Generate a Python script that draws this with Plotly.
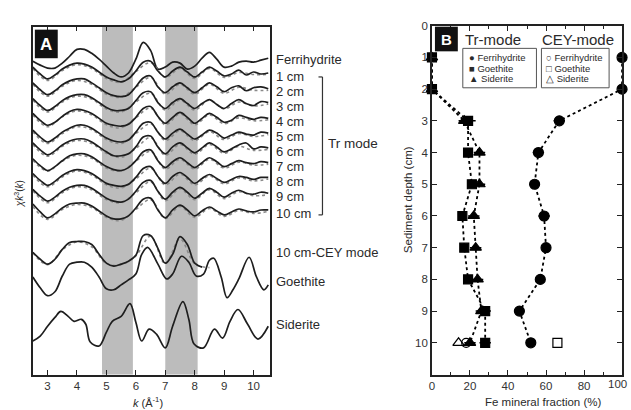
import numpy as np
import plotly.graph_objects as go

W, H = 631, 410

# ---------------- Panel A data (k^3-weighted EXAFS, arbitrary units, up = positive) ----------------
k_grid = [2.5 + 0.25 * i for i in range(33)]
k_fit = [2.5 + 0.5 * i for i in range(17)]

ferrihydrite = [-2, -6, -9, -9, -4, 3, 10, 10, 6, 0, -7, -14, -18, -14, 0, 17, 9, -10, -8, -3,
                -4, -10, -7, 1, 7, 0, -8, -7, -3, -2, -3, -1, 1]

depth_labels = ["1 cm", "2 cm", "3 cm", "4 cm", "5 cm", "6 cm", "7 cm", "8 cm", "9 cm", "10 cm"]
s1 = [6, -1, -6, -2, 4, 8, 10, 9, 6, 1, -4, -7, -9, -6, 2, 11, 12, 2, -4, 2, 6, 1, -4, 1, 6, 2, -3, -1, 3, -2, 1, -1, 0]
s2 = [5, -2, -7, -3, 3, 7, 9, 9, 5, 0, -5, -8, -9, -7, 1, 10, 12, 1, -5, 1, 5, 0, -5, 0, 5, 1, -4, 0, 2, -3, 0, 1, -1]
s3 = [4, -3, -8, -4, 2, 6, 8, 8, 5, 0, -5, -8, -8, -6, 2, 10, 11, 0, -6, 0, 4, -1, -6, -1, 3, -2, -6, -1, 3, -1, -3, 1, 0]
s4 = [4, -3, -8, -5, 1, 6, 8, 7, 4, -1, -6, -8, -9, -7, 0, 9, 11, 1, -6, 0, 5, 0, -6, -1, 4, 0, -5, -3, 2, 0, -2, 0, -1]
s5 = [3, -4, -9, -5, 1, 5, 8, 8, 5, 0, -5, -8, -9, -7, 1, 10, 11, 1, -6, 0, 4, -1, -6, -2, 3, 0, -5, -2, 1, -1, -2, 1, 0]
s6 = [4, -3, -8, -4, 2, 6, 8, 8, 5, 0, -5, -9, -9, -7, 0, 10, 11, 0, -7, 0, 4, -1, -6, -1, 4, 0, -5, -2, 2, 4, -2, 0, -1]
s7 = [3, -4, -9, -5, 1, 6, 8, 8, 5, 0, -5, -8, -9, -6, 1, 10, 12, 1, -6, 0, 4, -1, -6, -1, 4, 0, -5, -2, 1, -1, -2, 0, -1]
s8 = [4, -3, -8, -4, 2, 6, 8, 7, 4, -1, -6, -8, -9, -7, 0, 9, 11, 1, -6, 1, 5, 0, -6, -1, 3, -1, -5, -2, 1, 0, -2, 0, 0]
s9 = [3, -4, -9, -5, 1, 5, 7, 7, 4, -1, -6, -9, -10, -7, 1, 10, 12, 1, -7, 0, 5, 0, -6, -1, 4, 0, -5, -1, 2, -1, -2, 0, -1]
s10 = [6, -2, -8, -4, 2, 6, 7, 7, 4, -1, -6, -9, -9, -6, 2, 11, 12, 0, -8, 0, 5, 0, -6, -1, 3, -1, -5, -2, 1, -1, -2, 0, 0]
samples = [s1, s2, s3, s4, s5, s6, s7, s8, s9, s10]

f1 = [6, -6, 4, 10, 6, -4, -8, 3, 12, -3, 6, -4, 6, -3, 2, 0, 0]
f2 = [5, -7, 3, 9, 5, -5, -8, 2, 12, -5, 5, -5, 5, -4, 2, -1, -1]
f3 = [4, -8, 2, 8, 5, -5, -8, 2, 11, -6, 4, -6, 4, -5, 2, -2, 0]
f4 = [4, -8, 2, 8, 4, -6, -9, 1, 11, -6, 5, -6, 4, -5, 1, -2, -1]
f5 = [3, -9, 1, 8, 5, -5, -9, 1, 11, -6, 4, -6, 3, -5, 1, -2, 0]
f6 = [4, -8, 2, 8, 5, -5, -9, 0, 11, -7, 4, -6, 4, -5, 2, -2, -1]
f7 = [3, -8, 2, 8, 5, -5, -8, 2, 12, -6, 4, -6, 4, -5, 1, -2, -1]
f8 = [4, -8, 2, 8, 4, -6, -9, 0, 11, -6, 5, -6, 3, -5, 1, -2, 0]
f9 = [3, -9, 1, 7, 4, -6, -9, 1, 12, -7, 5, -6, 4, -5, 2, -2, -1]
f10 = [5, -8, 2, 7, 4, -6, -9, 2, 12, -7, 5, -6, 3, -5, 1, -2, 0]
fits = [f1, f2, f3, f4, f5, f6, f7, f8, f9, f10]

k_cey = [2.5 + 0.25 * i for i in range(24)]
cey = [0, -7, -12, -7, 3, 10, 11, 11, 8, -2, -11, -14, -12, -9, -3, 17, 17, 4, -11, -2, 16, 8, -11, -15]
k_cey_fit = [2.5 + 0.5 * i for i in range(13)]
cey_fit = [1, -11, 4, 12, 7, -10, -11, -2, 18, -10, 15, -10, -14]

k_goe = [2.5, 2.75, 3.0, 3.25, 3.5, 3.75, 4.0, 4.25, 4.5, 4.75, 5.0, 5.25, 5.5, 5.75, 6.0, 6.2, 6.4,
         6.75, 7.05, 7.25, 7.55, 7.8, 8.05, 8.3, 8.5, 8.65, 8.9, 9.1, 9.3, 9.5, 9.85, 10.1, 10.35, 10.5]
goethite = [5, -6, -14, -10, 6, 18, 20, 20, 15, 5, -7, -8, -3, 2, 8, 28, 35,
            18, 3, 8, 26, 20, 6, 8, 22, 24, 5, -16, -8, 3, 25, 5, -8, -3]

k_sid = [2.5, 2.75, 3.0, 3.25, 3.45, 3.7, 3.9, 4.15, 4.3, 4.45, 4.75, 5.0, 5.2, 5.5, 5.8, 6.0, 6.2,
         6.45, 6.7, 7.0, 7.25, 7.6, 7.8, 7.98, 8.3, 8.67, 8.95, 9.2, 9.47, 9.8, 10.15, 10.5]
siderite = [-17, -12, -2, 7, 13, 8, 3, 5, 0, -18, -22, -8, 3, 8, 21, 2, -17,
            -5, -10, -24, -2, 23, 5, -20, -24, -5, -14, 3, 15, 0, -15, -2]

band_ranges = [(4.85, 5.9), (7.0, 8.1)]

# ---------------- Panel B data ----------------
depth = [1, 2, 3, 4, 5, 6, 7, 8, 9, 10]
tr_ferrihydrite = [100, 100, 67, 56, 54, 59, 60, 57, 46, 52]
tr_ferrihydrite_err = [0, 0, 3, 3, 0, 3, 2, 0, 0, 0]
tr_goethite = [0, 0, 19, 19, 21, 16, 17, 19, 28, 28]
tr_goethite_err = [0, 0, 4, 0, 0, 0, 0, 0, 3, 3]
tr_siderite = [0, 0, 17, 25, 25, 22, 23, 24, 26, 20]
tr_siderite_err = [0, 0, 3, 3, 3, 3, 3, 3, 3, 3]
cey_depth = [10]
cey_ferrihydrite = [18]
cey_goethite = [66]
cey_siderite = [14]
fraction_ticks = [0, 20, 40, 60, 80, 100]

# ---------------- layout helpers ----------------
def fx(p):
    return p / W

def fy(p):
    return 1 - p / H

# vertical stacking levels of spectra (layout, in panel units)
ref_level = 54
sample_levels = [68, 83, 98, 113, 129, 143, 158, 174, 189, 207]
cey_level = 250
goe_level = 280
sid_level = 323

DARK = "#1e1e1e"
FIT = "#8a8a8a"

fig = go.Figure()

def add_curve(k, vals, level, color=DARK, dash="solid", width=1.7):
    fig.add_trace(go.Scatter(
        x=k, y=[v - level for v in vals], mode="lines",
        line=dict(color=color, width=width, dash=dash, shape="spline", smoothing=1.0),
        xaxis="x", yaxis="y", showlegend=False, hoverinfo="skip"))

add_curve(k_grid, ferrihydrite, ref_level)
for vals, fvals, lvl in zip(samples, fits, sample_levels):
    add_curve(k_fit, fvals, lvl + 1.5, color=FIT, dash="dot", width=1.6)
    add_curve(k_grid, vals, lvl)
add_curve(k_cey_fit, cey_fit, cey_level + 1.5, color=FIT, dash="dot", width=1.6)
add_curve(k_cey, cey, cey_level)
add_curve(k_goe, goethite, goe_level)
add_curve(k_sid, siderite, sid_level)

# ---------------- Panel B traces ----------------
def add_series(xv, err, symbol, open_=False, line=True, yv=depth, size=9):
    fig.add_trace(go.Scatter(
        x=xv, y=yv, mode="lines+markers" if line else "markers",
        line=dict(color="black", width=1.8, dash="dot"),
        marker=dict(symbol=symbol + ("-open" if open_ else ""), size=size,
                    color="black", line=dict(color="black", width=1.2)),
        error_x=dict(type="data", array=err, visible=True, color="black", thickness=1.5, width=0)
        if err is not None else None,
        xaxis="x2", yaxis="y2", showlegend=False, cliponaxis=False, hoverinfo="skip"))

add_series(tr_goethite, tr_goethite_err, "square", size=9)
add_series(tr_siderite, tr_siderite_err, "triangle-up", size=10)
add_series(tr_ferrihydrite, tr_ferrihydrite_err, "circle", size=10)
add_series(cey_ferrihydrite, None, "circle", open_=True, line=False, yv=cey_depth, size=9)
add_series(cey_goethite, None, "square", open_=True, line=False, yv=cey_depth, size=9)
add_series(cey_siderite, None, "triangle-up", open_=True, line=False, yv=cey_depth, size=10)

shapes = []
for x0, x1 in band_ranges:
    shapes.append(dict(type="rect", xref="x", yref="y domain", x0=x0, x1=x1, y0=0, y1=1,
                       fillcolor="#bcbcbc", line=dict(width=0), layer="below"))
# panel label boxes
shapes.append(dict(type="rect", xref="paper", yref="paper", x0=fx(32), x1=fx(55), y0=fy(53), y1=fy(24),
                   fillcolor="#111111", line=dict(width=0)))
shapes.append(dict(type="rect", xref="paper", yref="paper", x0=fx(434), x1=fx(457), y0=fy(46), y1=fy(21),
                   fillcolor="#111111", line=dict(width=0)))
# Tr mode bracket
shapes.append(dict(type="line", xref="paper", yref="paper", x0=fx(321), x1=fx(321), y0=fy(72), y1=fy(212),
                   line=dict(color="#333", width=1.2)))
for yy in (72, 212):
    shapes.append(dict(type="line", xref="paper", yref="paper", x0=fx(317), x1=fx(321), y0=fy(yy), y1=fy(yy),
                       line=dict(color="#333", width=1.2)))
# legend boxes
shapes.append(dict(type="rect", xref="paper", yref="paper", x0=fx(462), x1=fx(536), y0=fy(83), y1=fy(43),
                   line=dict(color="#555", width=1)))
shapes.append(dict(type="rect", xref="paper", yref="paper", x0=fx(541), x1=fx(609), y0=fy(83), y1=fy(43),
                   line=dict(color="#555", width=1)))

FONT = "Liberation Sans, Arial, sans-serif"
TXT = "#2a2a2a"
ann = []

def text(s, px, py, size, xanchor="left", color=TXT, angle=0, yanchor="middle"):
    ann.append(dict(text=s, x=fx(px), y=fy(py), xref="paper", yref="paper", showarrow=False,
                    xanchor=xanchor, yanchor=yanchor, textangle=angle,
                    font=dict(family=FONT, size=size, color=color)))

text("<b>A</b>", 43.5, 39, 17, xanchor="center", color="white")
text("<b>B</b>", 445.5, 34, 15, xanchor="center", color="white")

label_y = {"Ferrihydrite": 54, "1 cm": 72, "2 cm": 87, "3 cm": 102, "4 cm": 117, "5 cm": 132.5,
           "6 cm": 147.5, "7 cm": 162.5, "8 cm": 178, "9 cm": 193, "10 cm": 211,
           "10 cm-CEY mode": 250, "Goethite": 280, "Siderite": 323}
for s, py in label_y.items():
    text(s, 272, py, 13)
text("Tr mode", 325, 140, 13.5)

text("Tr-mode", 462, 34, 15)
text("CEY-mode", 540, 34, 15)
for i, (sym, name) in enumerate([("●", "Ferrihydrite"), ("■", "Goethite"), ("▲", "Siderite")]):
    text(sym + " " + name, 466, 52.5 + i * 10.5, 9.5)
for i, (sym, name) in enumerate([("○", "Ferrihydrite"), ("□", "Goethite"), ("△", "Siderite")]):
    text(sym + " " + name, 544, 52.5 + i * 10.5, 9.5)

text("<i>k</i> (Å<sup>-1</sup>)", 146, 402, 11, xanchor="center")
text("<i>χk</i><sup>3</sup>(<i>k</i>)", 16, 190, 10, xanchor="center", angle=-90)
text("Fe mineral fraction (%)", 543, 402, 11.5, xanchor="center")
text("Sediment depth (cm)", 407, 197, 11.5, xanchor="center", angle=-90)
# last x tick label of panel B sits on the figure edge; draw it as text so it is not dropped
text(str(fraction_ticks[-1]), 617, 384, 11.5, xanchor="center", color="#333")

axis_common = dict(showline=True, linecolor="#222", linewidth=1.6, mirror="ticks", ticks="inside",
                   tickcolor="#222", tickwidth=1.2, ticklen=5, showgrid=False, zeroline=False,
                   tickfont=dict(family=FONT, size=11.5, color="#333"))

fig.update_layout(
    width=W, height=H, margin=dict(l=0, r=0, t=0, b=0),
    paper_bgcolor="white", plot_bgcolor="rgba(0,0,0,0)",
    xaxis=dict(domain=[fx(30), fx(268)], range=[2.5, 10.55], tickvals=list(range(3, 11)),
               anchor="y", **axis_common),
    yaxis=dict(domain=[fy(374), fy(21)], range=[-374, -21], showticklabels=False,
               showline=True, linecolor="#222", linewidth=1.6, mirror=True, ticks="",
               showgrid=False, zeroline=False, anchor="x"),
    xaxis2=dict(domain=[fx(431), fx(622)], range=[0, 100], tickvals=fraction_ticks,
                ticktext=[str(t) for t in fraction_ticks[:-1]] + [""],
                minor=dict(dtick=10, ticks="inside", ticklen=3, tickcolor="#222"),
                anchor="y2", **axis_common),
    yaxis2=dict(domain=[fy(374), fy(20)], range=[11, 0], tickvals=list(range(0, 11)),
                anchor="x2", **axis_common),
    shapes=shapes, annotations=ann,
)

fig.write_html("out.html", config={"displayModeBar": False},
               post_script="document.body.style.margin='0';document.body.style.padding='0';")
